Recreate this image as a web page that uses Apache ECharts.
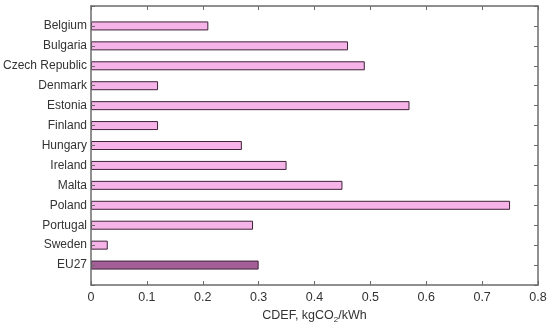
<!DOCTYPE html>
<html><head><meta charset="utf-8">
<script src="https://cdn.jsdelivr.net/npm/echarts@6/dist/echarts.min.js"></script>
<style>html,body{margin:0;padding:0;background:#fff}#c{width:550px;height:328px}</style>
</head><body><div id="c"></div>
<script>
const countries = ['Belgium','Bulgaria','Czech Republic','Denmark','Estonia','Finland','Hungary','Ireland','Malta','Poland','Portugal','Sweden','EU27'];
const cdef = [0.21,0.46,0.49,0.12,0.57,0.12,0.27,0.35,0.45,0.75,0.29,0.03,0.30];
const xTicks = [0,0.1,0.2,0.3,0.4,0.5,0.6,0.7,0.8];

const cats = [''].concat(countries, ['']);
const barData = [null].concat(cdef.map((v,i)=>({
  value: v,
  itemStyle: { color: countries[i]==='EU27' ? '#a45e98' : '#f5b3e8' }
})), [null]);

const axisCol = '#6b6b6b';
const font = 'Liberation Sans, Arial, sans-serif';
function tick(){ return {show:true,inside:true,length:4,interval:0,lineStyle:{color:axisCol,width:1}}; }
const chart = echarts.init(document.getElementById('c'), null, {renderer:'canvas'});
chart.setOption({
  animation:false,
  grid:{left:91,right:12,top:6,bottom:43,containLabel:false,outerBoundsMode:'none'},
  xAxis:[{
    type:'value',min:xTicks[0],max:xTicks[xTicks.length-1],interval:0.1,position:'bottom',z:10,
    axisLine:{show:true,onZero:false,lineStyle:{color:axisCol,width:1.5}},
    axisTick:tick(),
    splitLine:{show:false},
    axisLabel:{color:'#333',fontFamily:font,fontSize:12.5,margin:6,formatter:v=>String(+v.toFixed(1))},
    name:'{a|CDEF, kgCO}{s|2}{a|/kWh}',nameLocation:'middle',nameGap:19,
    nameTextStyle:{rich:{a:{fontFamily:font,fontSize:12.5,color:'#333'},s:{fontFamily:font,fontSize:8,color:'#333',verticalAlign:'bottom',padding:[8,0,0,0]}}}
  },{
    type:'value',min:0,max:0.8,interval:0.1,position:'top',z:10,
    axisLine:{show:true,onZero:false,lineStyle:{color:axisCol,width:1.5}},
    axisTick:tick(),
    axisLabel:{show:false},splitLine:{show:false}
  }],
  yAxis:[{
    type:'category',data:cats,inverse:true,boundaryGap:false,position:'left',z:10,
    axisLine:{show:true,onZero:false,lineStyle:{color:axisCol,width:1.5}},
    axisTick:tick(),
    axisLabel:{color:'#333',fontFamily:font,fontSize:12,margin:4,interval:0}
  },{
    type:'category',data:cats,inverse:true,boundaryGap:false,position:'right',z:10,
    axisLine:{show:true,onZero:false,lineStyle:{color:axisCol,width:1.5}},
    axisTick:tick(),
    axisLabel:{show:false}
  }],
  series:[{
    type:'bar',data:barData,xAxisIndex:0,yAxisIndex:0,barWidth:9,z:2,
    itemStyle:{borderColor:'#3d2238',borderWidth:1}
  }]
});
</script></body></html>
